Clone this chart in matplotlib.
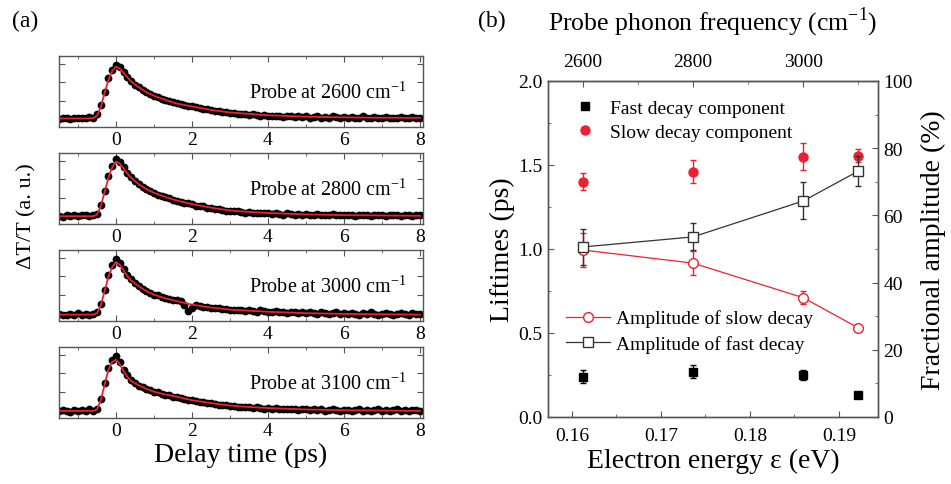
import numpy as np
import matplotlib
matplotlib.use("Agg")
import matplotlib.pyplot as plt
from matplotlib.ticker import MultipleLocator, NullFormatter, FormatStrFormatter
from matplotlib.lines import Line2D

plt.rcParams['font.family'] = ['Liberation Serif', 'DejaVu Serif']
plt.rcParams['mathtext.fontset'] = 'custom'
plt.rcParams['mathtext.rm'] = 'Liberation Serif'

# ---------------- Panel (a) data ----------------
probe_labels = ["2600", "2800", "3000", "3100"]
delay_t = np.round(np.arange(-1.5, 8.001, 0.1), 1)

trace_2600 = [0.11,0.12,0.13,0.11,0.12,0.12,0.13,0.12,0.14,0.13,
              0.18,0.31,0.50,0.69,0.80,0.88,
              0.84,0.77,0.70,0.65,0.59,0.56,0.52,0.49,0.46,0.43,
              0.42,0.40,0.38,0.37,0.35,0.34,0.32,0.31,0.30,0.29,
              0.28,0.27,0.26,0.25,0.24,0.23,0.22,0.21,0.21,0.20,
              0.20,0.19,0.18,0.19,0.17,0.18,0.17,0.16,0.17,0.16,
              0.16,0.15,0.16,0.14,0.15,0.16,0.14,0.15,0.14,0.15,
              0.13,0.14,0.15,0.13,0.14,0.13,0.15,0.14,0.12,0.14,
              0.13,0.14,0.12,0.13,0.15,0.13,0.12,0.14,0.13,0.12,
              0.14,0.13,0.12,0.13,0.14,0.12,0.13,0.14,0.12,0.13]
trace_2800 = [0.11,0.10,0.12,0.11,0.12,0.11,0.13,0.12,0.11,0.12,
              0.14,0.27,0.47,0.68,0.82,0.91,
              0.87,0.80,0.72,0.66,0.61,0.56,0.52,0.49,0.46,0.44,
              0.41,0.40,0.38,0.36,0.34,0.33,0.31,0.30,0.29,0.28,
              0.26,0.25,0.25,0.23,0.22,0.21,0.21,0.20,0.19,0.19,
              0.18,0.18,0.17,0.16,0.17,0.16,0.15,0.16,0.15,0.15,
              0.14,0.15,0.14,0.13,0.15,0.14,0.13,0.14,0.12,0.14,
              0.13,0.12,0.14,0.13,0.12,0.13,0.14,0.12,0.13,0.12,
              0.12,0.13,0.11,0.12,0.13,0.12,0.11,0.13,0.12,0.12,
              0.11,0.12,0.13,0.12,0.11,0.12,0.13,0.11,0.12,0.12]
trace_3000 = [0.10,0.09,0.08,0.10,0.09,0.11,0.09,0.10,0.09,0.10,
              0.12,0.24,0.44,0.65,0.79,0.87,
              0.82,0.73,0.65,0.59,0.53,0.49,0.45,0.42,0.40,0.37,
              0.36,0.34,0.33,0.31,0.30,0.30,0.28,0.22,0.14,0.19,
              0.22,0.21,0.20,0.20,0.19,0.18,0.19,0.17,0.17,0.16,
              0.16,0.15,0.16,0.14,0.15,0.14,0.13,0.15,0.14,0.13,
              0.12,0.14,0.13,0.12,0.11,0.13,0.12,0.11,0.12,0.11,
              0.12,0.11,0.10,0.12,0.11,0.10,0.11,0.12,0.10,0.11,
              0.10,0.11,0.10,0.09,0.11,0.10,0.12,0.10,0.09,0.10,
              0.11,0.10,0.09,0.10,0.11,0.10,0.09,0.11,0.10,0.10]
trace_3100 = [0.10,0.11,0.10,0.09,0.11,0.10,0.11,0.10,0.12,0.10,
              0.13,0.27,0.50,0.71,0.82,0.88,
              0.79,0.68,0.60,0.54,0.49,0.45,0.43,0.41,0.39,0.37,
              0.36,0.34,0.33,0.32,0.30,0.29,0.28,0.27,0.26,0.25,
              0.24,0.23,0.22,0.21,0.21,0.20,0.19,0.18,0.18,0.17,
              0.17,0.16,0.16,0.15,0.16,0.14,0.15,0.14,0.13,0.14,
              0.13,0.14,0.12,0.13,0.12,0.13,0.12,0.11,0.13,0.12,
              0.11,0.12,0.11,0.12,0.10,0.11,0.12,0.11,0.10,0.11,
              0.11,0.10,0.11,0.12,0.10,0.11,0.10,0.11,0.12,0.10,
              0.11,0.10,0.11,0.12,0.10,0.11,0.10,0.11,0.11,0.10]

fit_t = [-1.5,-0.8,-0.6,-0.5,-0.4,-0.3,-0.2,-0.1,0.0,0.1,0.2,0.3,0.4,0.6,0.8,1.0,
         1.3,1.6,2.0,2.5,3.0,3.5,4.0,5.0,6.0,7.0,8.0]
fit_2600 = [0.12,0.12,0.125,0.16,0.28,0.48,0.66,0.79,0.85,0.82,0.76,0.70,0.64,0.56,0.49,0.44,
            0.38,0.33,0.29,0.24,0.205,0.185,0.165,0.145,0.135,0.13,0.13]
fit_2800 = [0.11,0.11,0.11,0.13,0.25,0.45,0.65,0.80,0.88,0.85,0.78,0.71,0.65,0.56,0.49,0.44,
            0.38,0.33,0.28,0.23,0.19,0.17,0.155,0.135,0.125,0.12,0.115]
fit_3000 = [0.09,0.09,0.09,0.11,0.22,0.42,0.62,0.76,0.83,0.79,0.71,0.63,0.57,0.49,0.42,0.37,
            0.32,0.28,0.23,0.19,0.16,0.145,0.13,0.11,0.10,0.095,0.09]
fit_3100 = [0.10,0.10,0.10,0.12,0.25,0.47,0.68,0.79,0.82,0.76,0.66,0.58,0.52,0.46,0.41,0.37,
            0.33,0.30,0.25,0.21,0.175,0.155,0.14,0.12,0.11,0.105,0.10]

traces = [trace_2600, trace_2800, trace_3000, trace_3100]
fits = [fit_2600, fit_2800, fit_3000, fit_3100]

# ---------------- Panel (b) data ----------------
energy_eV = [0.1612, 0.1736, 0.1860, 0.1922]
fast_tau = [0.24, 0.27, 0.25, 0.13]
fast_tau_err = [0.04, 0.04, 0.03, 0.015]
slow_tau = [1.40, 1.46, 1.55, 1.555]
slow_tau_err = [0.05, 0.07, 0.08, 0.04]
amp_slow = [49.7, 45.8, 35.5, 26.5]
amp_slow_err = [5.0, 3.5, 2.0, 0.8]
amp_fast = [50.6, 53.6, 64.3, 73.2]
amp_fast_err = [5.5, 4.0, 5.5, 4.5]

W, H = 951, 485
fig = plt.figure(figsize=(W/100, H/100), dpi=100)

def px_axes(left, top, right, bottom):
    return fig.add_axes([left/W, 1-bottom/H, (right-left)/W, (bottom-top)/H])

RED = '#ee2030'
SPINE = '#555555'
tops = [57, 154, 251, 348]
for i, top in enumerate(tops):
    ax = px_axes(59, top, 423, top+71)
    ax.plot(delay_t, traces[i], 'o', color='black', ms=5.6, mew=0, zorder=2)
    ax.plot(fit_t, fits[i], '-', color=RED, lw=1.3, zorder=3)
    ax.set_xlim(-1.5, 8.08)
    ax.set_ylim(0, 1)
    ax.xaxis.set_major_locator(MultipleLocator(2))
    ax.xaxis.set_minor_locator(MultipleLocator(1))
    ax.set_yticks([0.11, 0.37, 0.63, 0.89])
    ax.yaxis.set_major_formatter(NullFormatter())
    ax.tick_params(direction='in', which='both', top=True, right=True,
                   labelsize=14, pad=3, colors=SPINE, labelcolor='black')
    ax.tick_params(which='major', length=4)
    ax.tick_params(which='minor', length=2.5)
    for s in ax.spines.values():
        s.set_color(SPINE)
        s.set_linewidth(1.0)
    ax.text(0.955, 0.49, "Probe at %s cm$^{\\mathregular{-1}}$" % probe_labels[i],
            transform=ax.transAxes, ha='right', va='center', fontsize=14.5)
    if i == 3:
        ax.set_xlabel("Delay time (ps)", fontsize=20, labelpad=2)

fig.text(27/W, 1-216/H, "ΔT/T (a. u.)", rotation=90, ha='center', va='center', fontsize=16)
fig.text(12/W, 1-21/H, "(a)", ha='left', va='center', fontsize=17)
fig.text(478/W, 1-21/H, "(b)", ha='left', va='center', fontsize=17)

# ---------------- Panel (b) ----------------
axb = px_axes(548, 82, 878, 418)
axr = axb.twinx()

axb.errorbar(energy_eV, fast_tau, yerr=fast_tau_err, fmt='s', color='black', ms=6,
             capsize=2.5, elinewidth=1, zorder=4)
axb.errorbar(energy_eV, slow_tau, yerr=slow_tau_err, fmt='o', color=RED, ms=6.5,
             capsize=2.5, elinewidth=1, zorder=4)

axr.errorbar(energy_eV, amp_slow, yerr=amp_slow_err, fmt='-o', color=RED, mfc='white',
             mec=RED, ms=7, lw=0.9, capsize=2.5, elinewidth=1)
axr.errorbar(energy_eV, amp_fast, yerr=amp_fast_err, fmt='-s', color='#333333', mfc='white',
             mec='#333333', ms=7, lw=0.9, capsize=2.5, elinewidth=1)

axb.set_xlim(0.1573, 0.1944)
axb.set_ylim(0, 2.0)
axr.set_ylim(0, 100)
axb.xaxis.set_major_locator(MultipleLocator(0.01))
axb.xaxis.set_minor_locator(MultipleLocator(0.005))
axb.yaxis.set_major_locator(MultipleLocator(0.5))
axb.yaxis.set_minor_locator(MultipleLocator(0.25))
axr.yaxis.set_major_locator(MultipleLocator(20))
axr.yaxis.set_minor_locator(MultipleLocator(10))
axb.xaxis.set_major_formatter(FormatStrFormatter('%.2f'))
axb.yaxis.set_major_formatter(FormatStrFormatter('%.1f'))

for a in (axb, axr):
    a.tick_params(direction='in', which='both', labelsize=14, colors=SPINE, labelcolor='black', pad=4)
    a.tick_params(which='major', length=4)
    a.tick_params(which='minor', length=2.5)
    for s in a.spines.values():
        s.set_color(SPINE)
        s.set_linewidth(1.0)
axb.tick_params(axis='x', pad=7)

axb.set_xlabel("Electron energy ε (eV)", fontsize=20, labelpad=3)
axb.set_ylabel("Liftimes (ps)", fontsize=20, labelpad=2)
axr.set_ylabel("Fractional amplitude (%)", fontsize=20, labelpad=6)

conv = 2.0 / 1.23984e-4
sec = axb.secondary_xaxis('top', functions=(lambda x: x * conv, lambda c: c / conv))
sec.xaxis.set_major_locator(MultipleLocator(200))
sec.xaxis.set_minor_locator(MultipleLocator(100))
sec.tick_params(direction='in', which='both', labelsize=14, colors=SPINE, labelcolor='black', pad=8)
sec.tick_params(which='major', length=4)
sec.tick_params(which='minor', length=2.5)
sec.spines['top'].set_color(SPINE)
sec.set_xlabel("Probe phonon frequency (cm$^{\\mathregular{-1}}$)", fontsize=18.5, labelpad=17)

h_fast = Line2D([], [], ls='none', marker='s', color='black', ms=6)
h_slow = Line2D([], [], ls='none', marker='o', color=RED, ms=6.5)
axb.legend([h_fast, h_slow], ["Fast decay component", "Slow decay component"],
           loc='upper left', bbox_to_anchor=(0.03, 0.985), frameon=False, fontsize=14,
           handletextpad=0.6, borderaxespad=0.3, labelspacing=0.3, handlelength=1.4)
h_aslow = Line2D([], [], ls='-', lw=0.9, marker='o', color=RED, mfc='white', ms=7)
h_afast = Line2D([], [], ls='-', lw=0.9, marker='s', color='#333333', mfc='white', ms=7)
axr.legend([h_aslow, h_afast], ["Amplitude of slow decay", "Amplitude of fast decay"],
           loc='center left', bbox_to_anchor=(0.0, 0.255), frameon=False, fontsize=14,
           handletextpad=0.3, labelspacing=0.4, handlelength=2.3)

fig.savefig("out.png", dpi=100)
